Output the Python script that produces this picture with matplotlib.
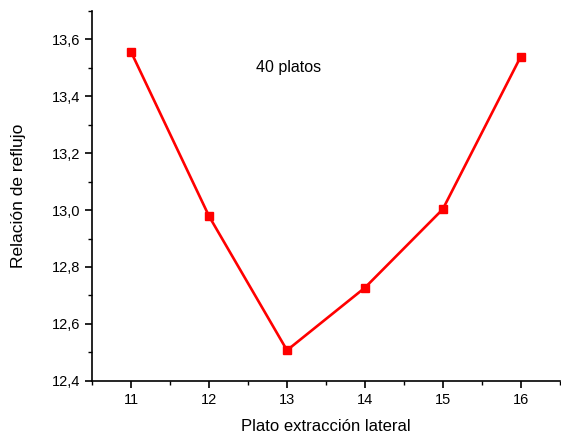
import matplotlib
matplotlib.use("Agg")
import matplotlib.pyplot as plt
from matplotlib.ticker import MultipleLocator, FuncFormatter

plt.rcParams['font.family'] = ['Liberation Sans', 'DejaVu Sans']

plates = [11, 12, 13, 14, 15, 16]
reflux = [13.555, 12.978, 12.507, 12.727, 13.003, 13.539]
xticks = [11, 12, 13, 14, 15, 16]
yticks = [12.4, 12.6, 12.8, 13.0, 13.2, 13.4, 13.6]

fig = plt.figure(figsize=(5.61, 4.37), dpi=100)
ax = fig.add_axes([0.1645, 0.1288, 0.833, 0.846])
ax.plot(plates, reflux, color='#ff0000', lw=1.9, marker='s', ms=5.5,
        markerfacecolor='#ff0000', markeredgecolor='#ff0000', clip_on=False)
ax.set_xlim(10.5, 16.5)
ax.set_ylim(12.4, 13.7)
ax.set_xticks(xticks)
ax.set_yticks(yticks)
ax.xaxis.set_minor_locator(MultipleLocator(0.5))
ax.yaxis.set_minor_locator(MultipleLocator(0.1))
ax.yaxis.set_major_formatter(FuncFormatter(lambda v, p: f"{v:.1f}".replace('.', ',')))
ax.spines['top'].set_visible(False)
ax.spines['right'].set_visible(False)
for s in ('left', 'bottom'):
    ax.spines[s].set_linewidth(1.2)
ax.tick_params(which='major', direction='out', length=5, width=1.2, labelsize=10.5)
ax.tick_params(which='minor', direction='out', length=3, width=1.0)
ax.set_xlabel('Plato extracción lateral', fontsize=12, labelpad=9)
ax.set_ylabel('Relación de reflujo', fontsize=12.5, labelpad=19)
ax.text(13.02, 13.50, '40 platos', fontsize=11.5, ha='center', va='center')
fig.savefig('out.png', dpi=100)
